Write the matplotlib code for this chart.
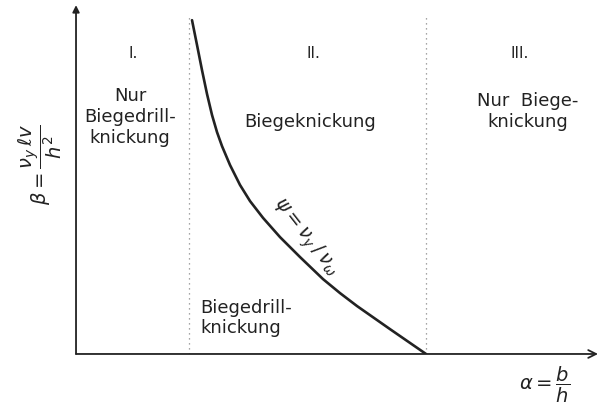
import matplotlib.pyplot as plt

# region boundaries on the alpha axis
alpha_limits = [2.26, 7.0]

# boundary curve psi = nu_y / nu_omega
curve_alpha = [2.32, 2.42, 2.52, 2.62, 2.72, 2.82, 2.92, 3.08, 3.28,
               3.48, 3.74, 4.08, 4.48, 4.94, 5.28, 5.62, 6.28, 7.00]
curve_beta = [9.54, 8.83, 8.11, 7.43, 6.83, 6.34, 5.94, 5.40, 4.83,
              4.37, 3.89, 3.34, 2.77, 2.14, 1.74, 1.37, 0.71, 0.00]

region_labels = ["I.", "II.", "III."]

ink = '#222222'
font = ['Liberation Sans Narrow', 'DejaVu Sans']

fig = plt.figure(figsize=(6, 4.08), dpi=100)
ax = fig.add_axes([0.1267, 0.1324, 0.87, 0.855])
ax.set_xlim(0, 10.44)
ax.set_ylim(0, 9.97)
ax.axis('off')

# axes drawn as arrows
ax.annotate('', xy=(0, 1.0), xytext=(0, 0), xycoords='axes fraction',
            arrowprops=dict(arrowstyle='-|>', color=ink, lw=1.3,
                            mutation_scale=10, shrinkA=0, shrinkB=0))
ax.annotate('', xy=(1.0, 0), xytext=(0, 0), xycoords='axes fraction',
            arrowprops=dict(arrowstyle='->', color=ink, lw=1.3,
                            mutation_scale=14, shrinkA=0, shrinkB=0))

# dotted region boundaries
ax.vlines(alpha_limits, 0, 9.7, colors='#888888', linestyles=(0, (1, 3)), lw=0.9)

ax.plot(curve_alpha, curve_beta, color=ink, lw=1.9,
        solid_capstyle='round', solid_joinstyle='round')

# region numbers
for a, lab in zip([1.14, 4.74, 8.88], region_labels):
    ax.text(a, 8.6, lab, ha='center', va='center', fontsize=11, color=ink, family=font)

ax.text(1.08, 6.77, "Nur\nBiegedrill-\nknickung", ha='center', va='center',
        fontsize=13, color=ink, family=font, linespacing=1.2)
ax.text(4.68, 6.63, "Biegeknickung", ha='center', va='center',
        fontsize=13, color=ink, family=font)
ax.text(9.04, 6.94, "Nur  Biege-\nknickung", ha='center', va='center',
        fontsize=13, color=ink, family=font, linespacing=1.2)
ax.text(2.48, 1.03, "Biegedrill-\nknickung", ha='left', va='center',
        fontsize=13, color=ink, family=font, linespacing=1.2)

ax.text(4.58, 3.34, r'$\psi = \nu_y\,/\,\nu_\omega$', ha='center', va='center',
        rotation=-52, fontsize=14, color=ink)

# axis labels
fig.text(40 / 600, 1 - 165 / 408, r'$\beta = \dfrac{\nu_y\,\ell v}{h^2}$',
         ha='center', va='center', rotation=90, fontsize=14, color=ink)
fig.text(545 / 600, 1 - 385 / 408, r'$\alpha = \dfrac{b}{h}$',
         ha='center', va='center', fontsize=14, color=ink)

plt.savefig('out.png', dpi=100)
plt.close(fig)
